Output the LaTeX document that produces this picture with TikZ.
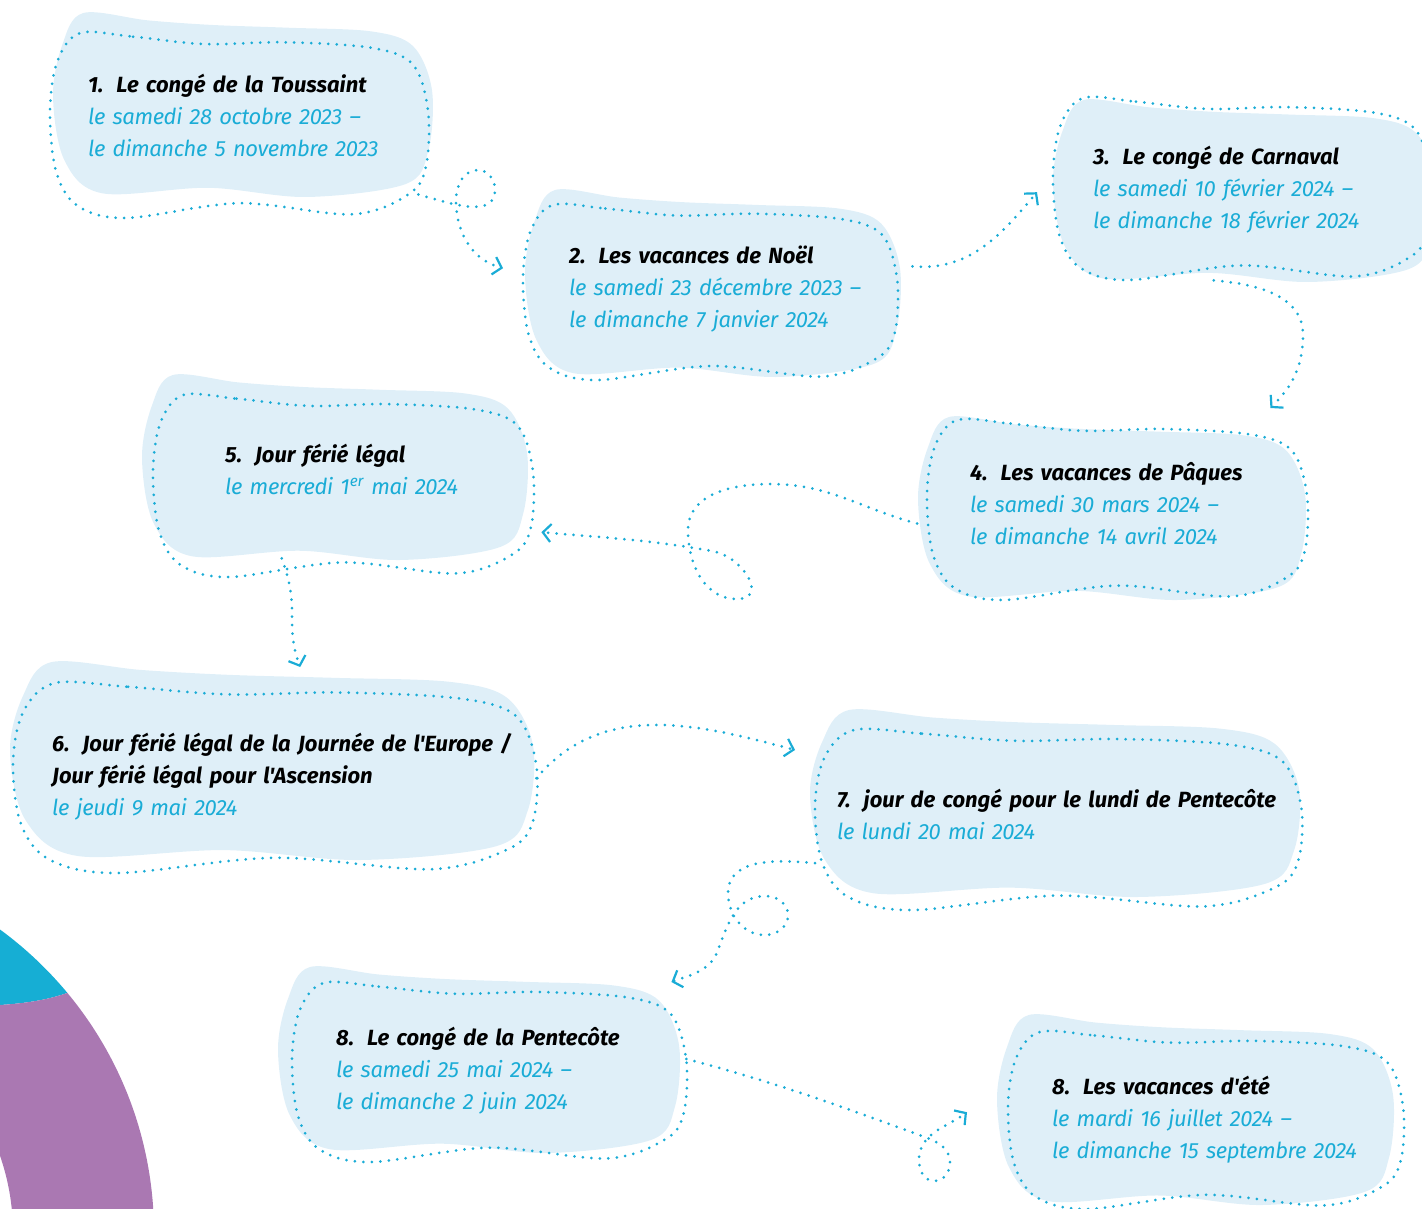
\documentclass[tikz,border=0pt]{standalone}
\usepackage{fontspec}
\setmainfont{Fira Sans}[Ligatures=TeXOff]
\newfontfamily\datefont{Fira Sans}[Ligatures=TeXOff, LetterSpace=-1.8]
\usetikzlibrary{arrows.meta}
\definecolor{blobblue}{RGB}{223,239,248}
\definecolor{dotblue}{RGB}{26,172,214}
\definecolor{ringcyan}{RGB}{22,174,212}
\definecolor{ringpurple}{RGB}{170,120,178}
\newcommand{\titre}[2]{\mbox{\bfseries #1\hspace{13pt}#2}}
\newcommand{\jour}[1]{\mbox{\datefont\itshape\color{dotblue}#1}}
\tikzset{
    dotline/.style={draw=dotblue, line width=3pt, line cap=round, dash pattern=on 0pt off 8.5pt},
    conn/.style={dotline, -{Straight Barb[length=8pt, width=18pt, line width=2.2pt]}},
    holiday/.style n args={4}{anchor=north west, inner ysep=0pt, inner xsep=#1, text width=#2,
        text height=#3, text depth=#4, align=left, font=\fontsize{22}{32}\selectfont\itshape},
    blobfill/.pic={
        \fill[blobblue] plot[smooth cycle, tension=0.55] coordinates {(0.08,0) (0.25,0.04) (0.42,0.065)
            (0.62,0.08) (0.84,0.10) (0.95,0.18) (1.0,0.42) (0.99,0.75) (0.93,0.93) (0.67,1.0) (0.41,0.95)
            (0.13,0.98) (0.03,0.80) (0.0,0.45) (0.025,0.17)};
    },
    blobdots/.pic={
        \path[dotline] plot[smooth cycle, tension=0.55] coordinates {(0.08,0) (0.22,0.02) (0.41,0.06)
            (0.62,0.05) (0.85,0.08) (0.96,0.17) (1.0,0.42) (0.995,0.72) (0.95,0.87) (0.80,0.98) (0.50,0.92)
            (0.20,1.0) (0.07,0.93) (0.015,0.74) (0,0.42) (0.02,0.15)};
    },
}

\begin{document}
\begin{tikzpicture}[x=1pt, y=-1pt]
    \useasboundingbox (0,0) rectangle (1422,1209);
    \clip (0,0) rectangle (1422,1209);

    % ring in the corner
    \begin{scope}
        \clip (-300,600) -- (-300,1012) -- (0,1005) .. controls (30,1003) and (50,999) .. (67,993)
            -- (250,930) -- (250,600) -- cycle;
        \fill[ringcyan, even odd rule] (-222,1233) circle[radius=376pt] (-222,1233) circle[radius=235pt];
    \end{scope}
    \begin{scope}
        \clip (-300,1300) -- (-300,1012) -- (0,1005) .. controls (30,1003) and (50,999) .. (67,993)
            -- (250,930) -- (250,1300) -- cycle;
        \fill[ringpurple, even odd rule] (-222,1233) circle[radius=376pt] (-222,1233) circle[radius=235pt];
    \end{scope}

    % blobs
    \pic[shift={(53,13)}, xscale=379, yscale=184] {blobfill};
    \pic[shift={(50,33)}, xscale=378, yscale=185] {blobdots};
    \pic[shift={(525,190)}, xscale=375, yscale=187] {blobfill};
    \pic[shift={(523,205)}, xscale=374, yscale=175] {blobdots};
    \pic[shift={(1053,100)}, xscale=382, yscale=182] {blobfill};
    \pic[shift={(1053,98)}, xscale=377, yscale=182] {blobdots};
    \pic[shift={(918,417)}, xscale=387, yscale=183] {blobfill};
    \pic[shift={(927,420)}, xscale=380, yscale=180] {blobdots};
    \pic[shift={(142,375)}, xscale=385, yscale=185] {blobfill};
    \pic[shift={(153,395)}, xscale=380, yscale=182] {blobdots};
    \pic[shift={(10,662)}, xscale=523, yscale=198] {blobfill};
    \pic[shift={(13,683)}, xscale=523, yscale=190] {blobdots};
    \pic[shift={(810,710)}, xscale=489, yscale=187] {blobfill};
    \pic[shift={(815,730)}, xscale=486, yscale=180] {blobdots};
    \pic[shift={(278,967)}, xscale=401, yscale=186] {blobfill};
    \pic[shift={(292,983)}, xscale=394, yscale=179] {blobdots};
    \pic[shift={(997,1015)}, xscale=396, yscale=190] {blobfill};
    \pic[shift={(1008,1032)}, xscale=395, yscale=177] {blobdots};

    % holidays
    \node (toussaint) [holiday={38pt}{302pt}{59pt}{126pt}] at (50,33)
        {\titre{1.}{Le congé de la Toussaint}\\ \jour{le samedi 28 octobre 2023 –}\\ \jour{le dimanche 5 novembre 2023}};
    \node (noel) [holiday={46pt}{282pt}{58pt}{117pt}] at (523,205)
        {\titre{2.}{Les vacances de Noël}\\ \jour{le samedi 23 décembre 2023 –}\\ \jour{le dimanche 7 janvier 2024}};
    \node (carnaval) [holiday={40pt}{297pt}{66pt}{116pt}] at (1053,98)
        {\titre{3.}{Le congé de Carnaval}\\ \jour{le samedi 10 février 2024 –}\\ \jour{le dimanche 18 février 2024}};
    \node (paques) [holiday={43pt}{294pt}{60pt}{120pt}] at (927,420)
        {\titre{4.}{Les vacances de Pâques}\\ \jour{le samedi 30 mars 2024 –}\\ \jour{le dimanche 14 avril 2024}};
    \node (mai) [holiday={72pt}{236pt}{67pt}{115pt}] at (153,395)
        {\titre{5.}{Jour férié légal}\\ \jour{le mercredi 1\textsuperscript{er} mai 2024}};
    \node (europe) [holiday={39pt}{445pt}{68pt}{122pt}] at (13,683)
        {\titre{6.}{Jour férié légal de la Journée de l'Europe /}\\ \mbox{\bfseries Jour férié légal pour l'Ascension}\\ \jour{le jeudi 9 mai 2024}};
    \node (lundi) [holiday={22pt}{442pt}{77pt}{103pt}] at (815,730)
        {\titre{7.}{jour de congé pour le lundi de Pentecôte}\\ \jour{le lundi 20 mai 2024}};
    \node (pentecote) [holiday={44pt}{306pt}{62pt}{117pt}] at (292,983)
        {\titre{8.}{Le congé de la Pentecôte}\\ \jour{le samedi 25 mai 2024 –}\\ \jour{le dimanche 2 juin 2024}};
    \node (ete) [holiday={44pt}{307pt}{62pt}{115pt}] at (1008,1032)
        {\titre{8.}{Les vacances d'été}\\ \jour{le mardi 16 juillet 2024 –}\\ \jour{le dimanche 15 septembre 2024}};

    % connectors
    \draw[conn] ([xshift=-10pt]toussaint.-20) to[out=-15, in=-90] (495,190) to[out=90, in=0] (478,170)
        to[out=180, in=90] (456,200) to[out=-90, in=165] ([shift={(-20,-24.5)}]noel.west);
    \draw[conn] ([xshift=15pt]noel.8) to[out=-5, in=-130] ([shift={(-16,3)}]carnaval.west);
    \draw[conn] (carnaval.-107) to[out=-5, in=90] (1303,335) to[out=-90, in=45] ([shift={(-37,-12)}]paques.north east);
    \draw[conn] ([xshift=-10pt]paques.184) to[out=165, in=0] (770,484) to[out=180, in=90] (688,530)
        to[out=-90, in=180] (737,599) to[out=0, in=-10, looseness=1.5] (712,551)
        to[out=170, in=-5] ([shift={(8,46)}]mai.east);
    \draw[conn] ([yshift=19pt]mai.-124) to[out=-70, in=90] (292,615) to[out=-90, in=110] ([shift={(25.5,-16)}]europe.north);
    \draw[conn] (europe.0) to[out=50, in=165] ([shift={(-20,20)}]lundi.north west);
    \draw[conn] (lundi.190) to[out=175, in=90] (728,893) to[out=-90, in=180] (765,935) to[out=0, in=-90] (788,915)
        to[out=90, in=0] (765,896) to[out=180, in=70] (718,950) to[out=-110, in=20] ([shift={(-15,-1)}]pentecote.north east);
    \draw[conn] (pentecote.4) to[out=-15, in=160] (914,1133) to[out=-20, in=90] (950,1163) to[out=-90, in=0] (934,1181)
        to[out=180, in=-90] (919,1160) to[out=90, in=-144] ([shift={(-41,-8.5)}]ete.west);
\end{tikzpicture}
\end{document}
